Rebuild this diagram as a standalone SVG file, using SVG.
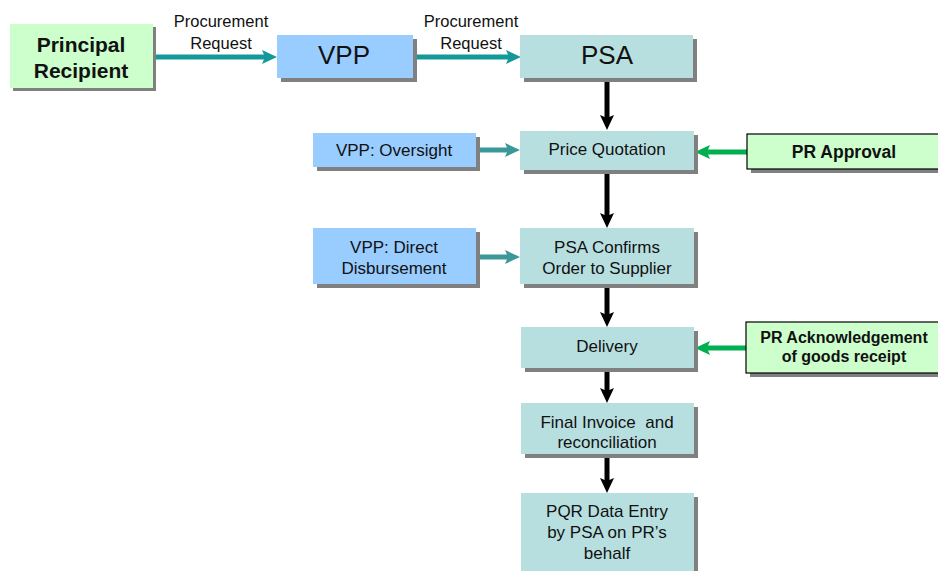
<svg xmlns="http://www.w3.org/2000/svg" width="938" height="571" viewBox="0 0 938 571">
  <style>
    text { font-family: "Liberation Sans", Arial, sans-serif; fill: #111; text-anchor: middle; }
    .shadow { fill: #808080; }
    .pr { fill: #ccffcc; }
    .pr-b { fill: #ccffcc; stroke: #000; stroke-width: 1.2; }
    .vpp { fill: #99ccff; }
    .psa { fill: #b8dfe0; }
    .big { font-size: 26px; }
    .bold20 { font-size: 21px; font-weight: bold; }
    .bold16 { font-size: 16px; font-weight: bold; }
    .bold17 { font-size: 17.5px; font-weight: bold; }
    .txt { font-size: 17px; }
    .lbl { font-size: 16.5px; }
    .teal { stroke: #14999a; stroke-width: 5; fill: none; }
    .teal2 { stroke: #3b9898; stroke-width: 5; fill: none; }
    .green { stroke: #00b050; stroke-width: 5; fill: none; }
    .black { stroke: #000; stroke-width: 5; fill: none; }
  </style>
  <defs>
    <marker id="head-teal" markerUnits="userSpaceOnUse" markerWidth="16" markerHeight="16" refX="4" refY="8" orient="auto" viewBox="0 0 16 16">
      <path d="M0,1 L15,8 L0,15 L3,8 z" fill="#14999a"/>
    </marker>
    <marker id="head-teal2" markerUnits="userSpaceOnUse" markerWidth="16" markerHeight="16" refX="4" refY="8" orient="auto" viewBox="0 0 16 16">
      <path d="M0,1 L15,8 L0,15 L3,8 z" fill="#3b9898"/>
    </marker>
    <marker id="head-green" markerUnits="userSpaceOnUse" markerWidth="16" markerHeight="16" refX="4" refY="8" orient="auto" viewBox="0 0 16 16">
      <path d="M0,1 L15,8 L0,15 L3,8 z" fill="#00b050"/>
    </marker>
    <marker id="head-black" markerUnits="userSpaceOnUse" markerWidth="16" markerHeight="16" refX="4" refY="8" orient="auto" viewBox="0 0 16 16">
      <path d="M0,1 L15,8 L0,15 L3,8 z" fill="#000"/>
    </marker>
  </defs>

  <!-- connectors -->
  <g id="connectors">
    <line class="teal" x1="153" y1="57" x2="266" y2="57" marker-end="url(#head-teal)"/>
    <line class="teal" x1="413" y1="57" x2="510" y2="57" marker-end="url(#head-teal)"/>
    <line class="teal2" x1="476" y1="150" x2="509" y2="150" marker-end="url(#head-teal2)"/>
    <line class="teal2" x1="476" y1="257" x2="509" y2="257" marker-end="url(#head-teal2)"/>
    <line class="green" x1="747" y1="152" x2="706" y2="152" marker-end="url(#head-green)"/>
    <line class="green" x1="746" y1="348" x2="706" y2="348" marker-end="url(#head-green)"/>
    <line class="black" x1="607" y1="80" x2="607" y2="119" marker-end="url(#head-black)"/>
    <line class="black" x1="607" y1="172" x2="607" y2="217" marker-end="url(#head-black)"/>
    <line class="black" x1="607" y1="286" x2="607" y2="316" marker-end="url(#head-black)"/>
    <line class="black" x1="607" y1="370" x2="607" y2="392" marker-end="url(#head-black)"/>
    <line class="black" x1="607" y1="456" x2="607" y2="482" marker-end="url(#head-black)"/>
  </g>

  <g id="principal-recipient">
    <rect class="shadow" x="13" y="27" width="143" height="64"/>
    <rect class="pr" x="10" y="24" width="143" height="64"/>
    <text class="bold20" x="81" y="52">Principal</text>
    <text class="bold20" x="81" y="78">Recipient</text>
  </g>

  <g id="label-request-1">
    <text class="lbl" x="221" y="27">Procurement</text>
    <text class="lbl" x="221" y="49">Request</text>
  </g>

  <g id="vpp">
    <rect class="shadow" x="281" y="39" width="136" height="43"/>
    <rect class="vpp" x="277" y="35" width="136" height="43"/>
    <text class="big" x="344" y="64">VPP</text>
  </g>

  <g id="label-request-2">
    <text class="lbl" x="471" y="27">Procurement</text>
    <text class="lbl" x="471" y="49">Request</text>
  </g>

  <g id="psa">
    <rect class="shadow" x="524" y="39" width="173" height="43"/>
    <rect class="psa" x="520" y="35" width="173" height="43"/>
    <text class="big" x="607" y="64">PSA</text>
  </g>

  <g id="vpp-oversight">
    <rect class="shadow" x="317" y="137" width="163" height="34"/>
    <rect class="vpp" x="313" y="133" width="163" height="34"/>
    <text class="txt" x="394" y="156">VPP: Oversight</text>
  </g>

  <g id="price-quotation">
    <rect class="shadow" x="524" y="135" width="174" height="39"/>
    <rect class="psa" x="520" y="131" width="174" height="39"/>
    <text class="txt" x="607" y="155">Price Quotation</text>
  </g>

  <g id="pr-approval">
    <rect class="shadow" x="751" y="138" width="194" height="35"/>
    <rect class="pr-b" x="747" y="134" width="194" height="35"/>
    <text class="bold17" x="844" y="158">PR Approval</text>
  </g>

  <g id="vpp-direct-disbursement">
    <rect class="shadow" x="317" y="232" width="163" height="56"/>
    <rect class="vpp" x="313" y="228" width="163" height="56"/>
    <text class="txt" x="394" y="253">VPP: Direct</text>
    <text class="txt" x="394" y="274">Disbursement</text>
  </g>

  <g id="psa-confirms-order">
    <rect class="shadow" x="524" y="232" width="174" height="56"/>
    <rect class="psa" x="520" y="228" width="174" height="56"/>
    <text class="txt" x="607" y="253">PSA Confirms</text>
    <text class="txt" x="607" y="274">Order to Supplier</text>
  </g>

  <g id="delivery">
    <rect class="shadow" x="525" y="331" width="173" height="41"/>
    <rect class="psa" x="521" y="327" width="173" height="41"/>
    <text class="txt" x="607" y="352">Delivery</text>
  </g>

  <g id="pr-acknowledgement">
    <rect class="shadow" x="750" y="326" width="194" height="51"/>
    <rect class="pr-b" x="746" y="322" width="194" height="51"/>
    <text class="bold16" x="844" y="343">PR Acknowledgement</text>
    <text class="bold16" x="844" y="362">of goods receipt</text>
  </g>

  <g id="final-invoice">
    <rect class="shadow" x="525" y="407" width="173" height="51"/>
    <rect class="psa" x="521" y="403" width="173" height="51"/>
    <text class="txt" x="607" y="428" xml:space="preserve">Final Invoice  and</text>
    <text class="txt" x="607" y="448">reconciliation</text>
  </g>

  <g id="pqr-data-entry">
    <rect class="shadow" x="525" y="497" width="173" height="80"/>
    <rect class="psa" x="521" y="493" width="173" height="80"/>
    <text class="txt" x="607" y="517">PQR Data Entry</text>
    <text class="txt" x="607" y="538">by PSA on PR’s</text>
    <text class="txt" x="607" y="559">behalf</text>
  </g>
</svg>
